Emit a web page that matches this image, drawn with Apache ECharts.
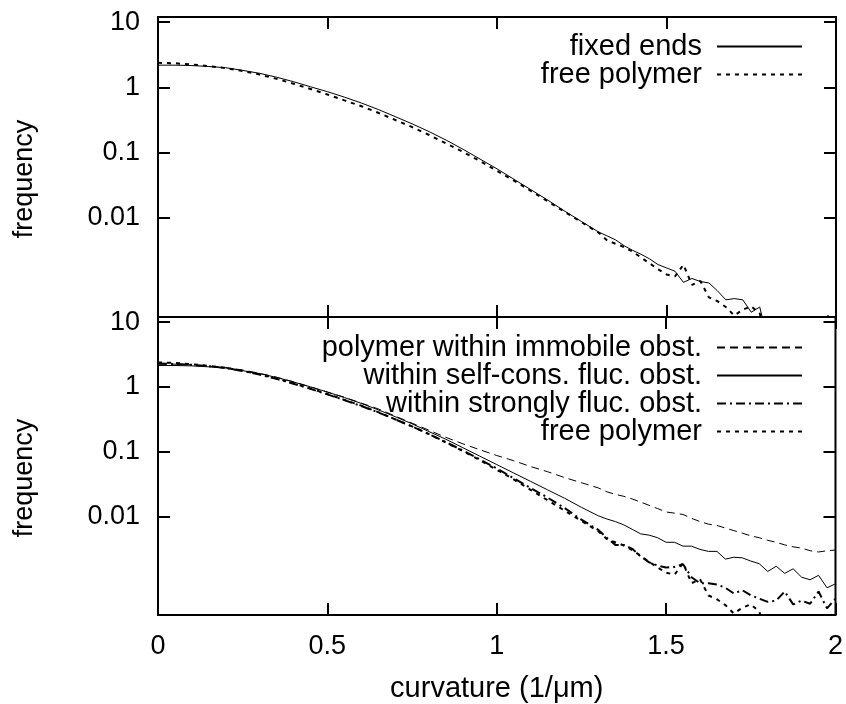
<!DOCTYPE html>
<html><head><meta charset="utf-8">
<script src="https://cdn.jsdelivr.net/npm/echarts@6/dist/echarts.min.js"></script>
<style>html,body{margin:0;padding:0;background:#fff}#c{width:846px;height:704px}</style>
</head><body><div id="c"></div><script>
// curvature grid (1/um)
const curvature = [0,0.05,0.1,0.15,0.2,0.25,0.3,0.35,0.4,0.45,0.5,0.55,0.6,0.65,0.7,0.75,0.8,0.85,0.9,0.95,1.0,1.05,1.1,1.15,1.2,1.25,1.3,
  1.325,1.35,1.375,1.4,1.425,1.45,1.475,1.5,1.525,1.55,1.575,1.6,1.625,1.65,1.675,1.7,1.725,1.75,1.775,1.8,1.825,1.85,1.875,1.9,1.925,1.95,1.975,2.0];
const fixedEnds = [2.19,2.19,2.16,2.09,2.00,1.82,1.64,1.43,1.22,1.02,0.857,0.708,0.575,0.457,0.355,0.275,0.209,0.155,0.112,0.0794,0.0562,0.0389,0.0269,0.0186,0.0126,0.0087,0.00603,
  0.00525,0.00457,0.00372,0.00316,0.00275,0.00234,0.00191,0.0017,0.00151,0.00102,0.00117,0.00105,0.001,0.00076,0.00055,0.000575,0.00055,0.000355,0.000427,0.000126,null,null,null,null,null,null,null,null];
const freePolymer = [2.38,2.34,2.24,2.11,1.97,1.78,1.57,1.35,1.135,0.944,0.776,0.631,0.513,0.407,0.316,0.245,0.186,0.138,0.102,0.0741,0.0525,0.0372,0.0257,0.0178,0.0123,0.0085,0.00589,
  0.00447,0.00398,0.00355,0.00302,0.00245,0.002,0.00162,0.00135,0.00126,0.0019,0.00093,0.00107,0.0006,0.000525,0.000427,0.000316,0.000389,0.000437,0.000339,0.000126,0.000224,0.0001,0.0002,0.0001,0.000158,0.0001,0.000316,0.0002];
const immobile = [2.24,2.24,2.19,2.09,2.0,1.82,1.62,1.41,1.20,1.0,0.832,0.692,0.562,0.457,0.355,0.275,0.214,0.166,0.132,0.107,0.0871,0.0724,0.0589,0.049,0.0398,0.0331,0.0275,
  0.024,0.0219,0.0204,0.0186,0.0166,0.0148,0.0132,0.0117,0.0112,0.0107,0.00933,0.00832,0.00759,0.00724,0.00661,0.00603,0.0055,0.00501,0.00468,0.00427,0.00398,0.00363,0.00339,0.00324,0.00295,0.00282,0.00295,0.00302];
const selfCons = [2.14,2.14,2.11,2.04,1.95,1.78,1.60,1.40,1.19,1.0,0.832,0.684,0.556,0.442,0.347,0.269,0.204,0.155,0.115,0.0851,0.0631,0.0468,0.0347,0.0257,0.0191,0.0138,0.0102,
  0.00912,0.00832,0.00741,0.00631,0.00537,0.00513,0.00468,0.00398,0.00398,0.00347,0.00347,0.00309,0.00288,0.00288,0.00219,0.00234,0.00229,0.00204,0.00186,0.00141,0.0017,0.00132,0.00155,0.00115,0.00105,0.00123,0.00079,0.00091];
const strongly = [2.29,2.26,2.19,2.09,1.95,1.76,1.55,1.33,1.12,0.933,0.767,0.624,0.507,0.403,0.316,0.245,0.186,0.140,0.104,0.0759,0.055,0.0389,0.0275,0.0195,0.0135,0.0089,0.00617,
  0.00468,0.00363,0.00363,0.00316,0.0024,0.00195,0.00174,0.00162,0.00166,0.00182,0.00115,0.00093,0.00093,0.00089,0.00079,0.000646,0.000724,0.000603,0.000537,0.000479,0.000501,0.000692,0.000437,0.000501,0.000447,0.000692,0.00038,0.000537];
const yTicks = [0.01, 0.1, 1, 10];
const xTicksInterval = 0.5;

const FONT = "'Liberation Sans', Arial, Helvetica, sans-serif";
const FS = 27, FS2 = 29;
const pairs = arr => curvature.map((x, i) => [x, arr[i]]);
const fmtY = v => v >= 1 ? String(Math.round(v)) : String(+v.toPrecision(1));

function xAxisDef(gridIndex, pos, labels) {
  return {
    type: 'value', gridIndex, position: pos, min: 0, max: 2, interval: xTicksInterval,
    axisLine: { show: false, onZero: false }, splitLine: { show: false },
    axisTick: { show: true, inside: true, length: 12, lineStyle: { color: '#000', width: 2 } },
    axisLabel: { show: labels, margin: 18, color: '#000', fontFamily: FONT, fontSize: FS },
    name: labels ? 'curvature (1/\u03bcm)' : '', nameLocation: 'middle', nameGap: 59,
    nameTextStyle: { color: '#000', fontFamily: FONT, fontSize: FS2 }
  };
}
function yAxisDef(gridIndex, pos, labels) {
  return {
    type: 'log', logBase: 10, gridIndex, position: pos, min: 0.0003, max: 12,
    axisLine: { show: false, onZero: false }, splitLine: { show: false }, minorTick: { show: false },
    axisTick: { show: true, inside: true, length: 12, lineStyle: { color: '#000', width: 2 }, customValues: yTicks },
    axisLabel: { show: labels, customValues: yTicks, margin: 18, color: '#000', fontFamily: FONT, fontSize: FS, formatter: fmtY },
    name: labels ? 'frequency' : '', nameLocation: 'middle', nameGap: 120,
    nameTextStyle: { color: '#000', fontFamily: FONT, fontSize: FS, padding: [0, 24, 0, 0] }
  };
}
const legendBase = {
  orient: 'vertical', align: 'right', right: 38, itemWidth: 85, itemHeight: 10, itemGap: -1,
  selectedMode: false, itemStyle: { opacity: 0 },
  textStyle: { fontFamily: FONT, fontSize: FS2, color: '#000', lineHeight: 27, padding: [0, 10, 0, 0] }
};
const line = (name, xi, yi, arr, style) => ({
  type: 'line', name, xAxisIndex: xi, yAxisIndex: yi, data: pairs(arr),
  symbol: 'none', showSymbol: false, lineStyle: Object.assign({ color: '#000' }, style),
  animation: false, silent: true
});

const chart = echarts.init(document.getElementById('c'), null, { renderer: 'canvas' });
chart.setOption({
  backgroundColor: '#fff',
  animation: false,
  grid: [
    { left: 158, right: 10, top: 17, height: 300, show: true, borderColor: '#000', borderWidth: 2, backgroundColor: 'transparent' },
    { left: 158, right: 10, top: 317, height: 299, show: true, borderColor: '#000', borderWidth: 2, backgroundColor: 'transparent' }
  ],
  xAxis: [xAxisDef(0, 'bottom', false), xAxisDef(0, 'top', false), xAxisDef(1, 'bottom', true), xAxisDef(1, 'top', false)],
  yAxis: [yAxisDef(0, 'left', true), yAxisDef(0, 'right', false), yAxisDef(1, 'left', true), yAxisDef(1, 'right', false)],
  legend: [
    Object.assign({}, legendBase, { top: 27, data: ['fixed ends', 'free polymer'] }),
    Object.assign({}, legendBase, { top: 328, data: ['polymer within immobile obst.', 'within self-cons. fluc. obst.', 'within strongly fluc. obst.', 'free polymer'] })
  ],
  series: [
    line('fixed ends', 0, 0, fixedEnds, { width: 1, type: 'solid' }),
    line('free polymer', 0, 0, freePolymer, { width: 2, type: [4, 5] }),
    line('polymer within immobile obst.', 2, 2, immobile, { width: 1, type: [8, 5] }),
    line('within self-cons. fluc. obst.', 2, 2, selfCons, { width: 1, type: 'solid' }),
    line('within strongly fluc. obst.', 2, 2, strongly, { width: 2, type: [9, 4, 2, 4] }),
    line('free polymer', 2, 2, freePolymer, { width: 2, type: [4, 5] })
  ]
});
</script></body></html>
